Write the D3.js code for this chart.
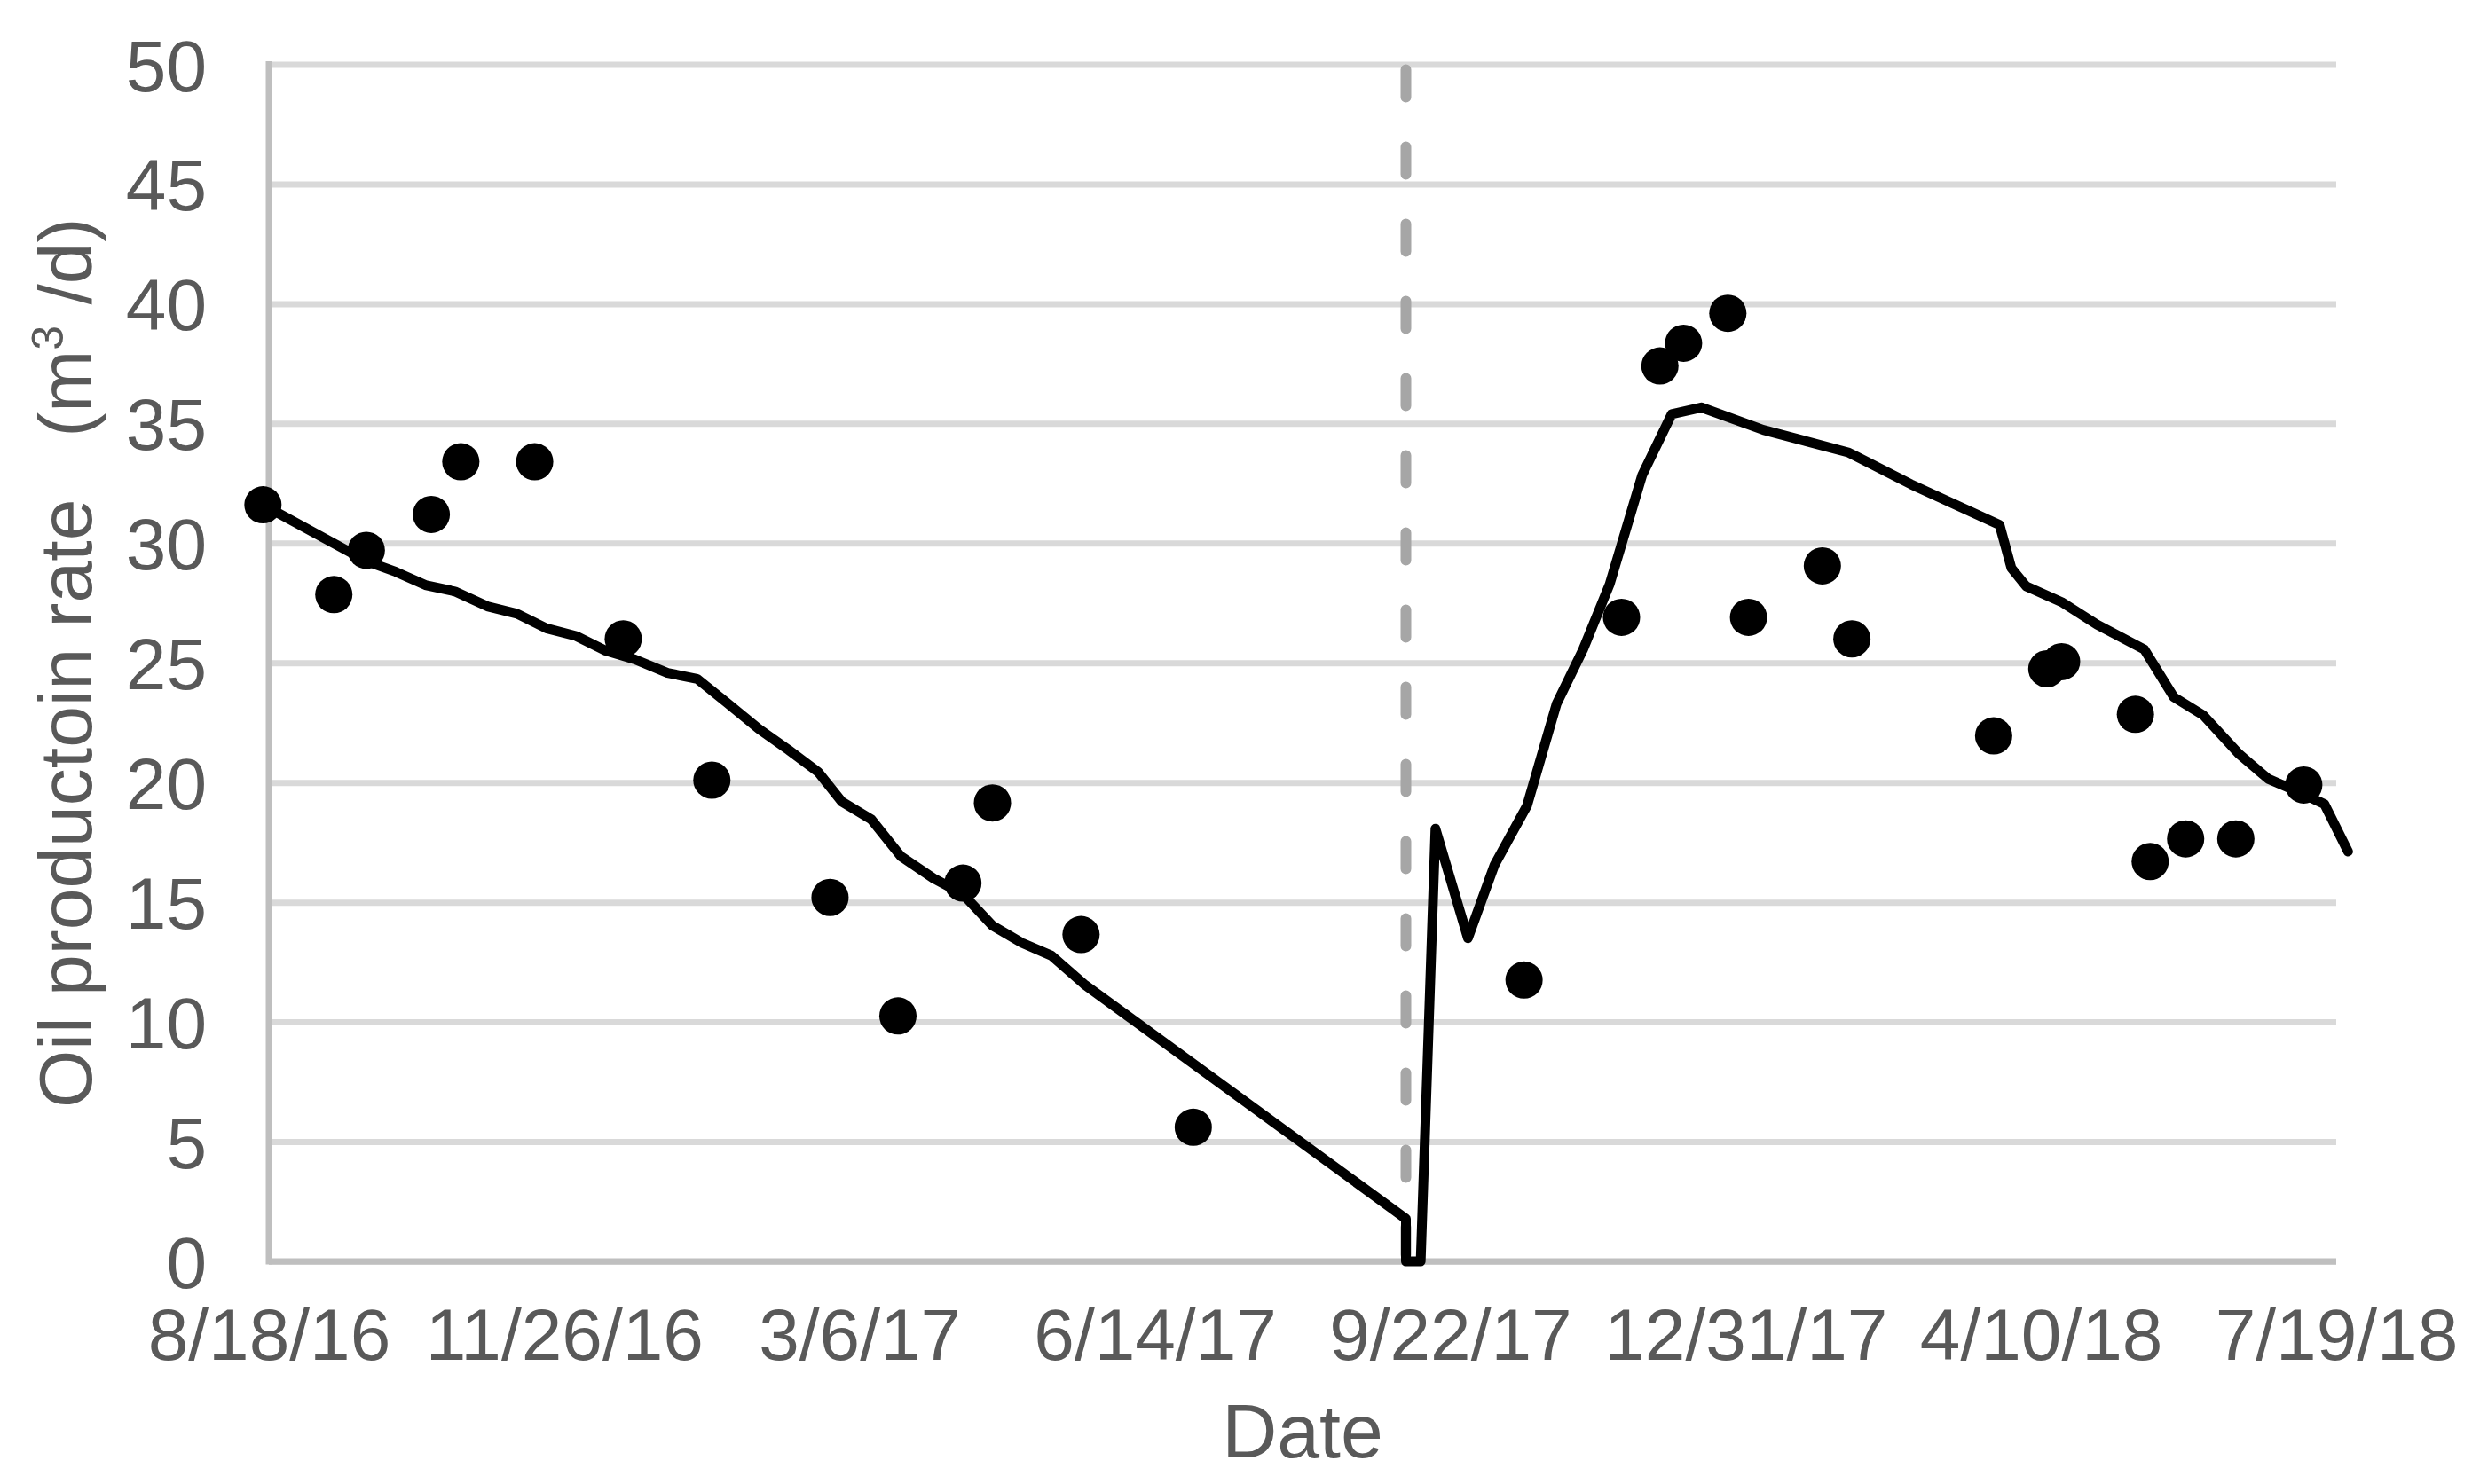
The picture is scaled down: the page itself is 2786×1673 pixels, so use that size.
<!DOCTYPE html>
<html><head><meta charset="utf-8">
<script src="https://cdn.jsdelivr.net/npm/d3@7"></script>
<style>
html,body{margin:0;padding:0;background:#fff;}
svg{display:block;}
text{font-family:"Liberation Sans",Arial,Helvetica,sans-serif;}
</style></head><body>
<svg id="chart" width="2786" height="1673"></svg>
<script>
// ---- data ----
const dotDates = ["2016-08-16","2016-09-09","2016-09-20","2016-10-12","2016-10-22","2016-11-16","2016-12-16","2017-01-15","2017-02-24","2017-03-19","2017-04-10","2017-04-20","2017-05-20","2017-06-27","2017-10-17","2017-11-19","2017-12-02","2017-12-10","2017-12-25","2018-01-01","2018-01-26","2018-02-05","2018-03-25","2018-04-12","2018-04-17","2018-05-12","2018-05-17","2018-05-29","2018-06-15","2018-07-08"];
const dotValues = [31.6,27.85,29.7,31.2,33.4,33.4,26.0,20.1,15.2,10.25,15.8,19.15,13.65,5.6,11.75,26.9,37.4,38.35,39.6,26.9,29.05,26.0,21.95,24.75,25.05,22.85,16.7,17.65,17.65,19.9];

const lineDates = ["2016-08-16","2016-09-20","2016-09-30","2016-10-10","2016-10-20","2016-10-31","2016-11-10","2016-11-20","2016-11-30","2016-12-10","2016-12-20","2016-12-31","2017-01-10","2017-01-20","2017-01-31","2017-02-10","2017-02-20","2017-02-28","2017-03-10","2017-03-20","2017-03-31","2017-04-10","2017-04-20","2017-04-30","2017-05-10","2017-05-21","2017-09-07","2017-09-07","2017-09-12","2017-09-17","2017-09-28","2017-10-07","2017-10-18","2017-10-28","2017-11-06","2017-11-15","2017-11-26","2017-12-06","2017-12-16","2018-01-06","2018-02-04","2018-02-25","2018-03-27","2018-03-31","2018-04-05","2018-04-17","2018-04-29","2018-05-15","2018-05-25","2018-06-04","2018-06-16","2018-06-26","2018-07-06","2018-07-15","2018-07-23"];
const lineValues = [31.6,29.25,28.8,28.25,27.98,27.36,27.05,26.44,26.12,25.51,25.14,24.58,24.33,23.34,22.23,21.36,20.44,19.2,18.46,16.92,16.0,15.34,14.02,13.3,12.77,11.58,1.78,0,0,18.07,13.5,16.56,19.03,23.28,25.56,28.29,32.84,35.39,35.67,34.73,33.78,32.46,30.76,28.96,28.2,27.54,26.6,25.56,23.57,22.81,21.2,20.15,19.62,19.1,17.12];

const xTickDates = ["2016-08-18","2016-11-26","2017-03-06","2017-06-14","2017-09-22","2017-12-31","2018-04-10","2018-07-19"];
const yTickValues = [0,5,10,15,20,25,30,35,40,45,50];
const xDomain = ["2016-08-18","2018-07-19"];
const yDomain = [0,50];
const markerDate = "2017-09-07";
const xTitle = "Date";
const yTitleMain = "Oil productoin rate";
const yTitleUnitA = "(m";
const yTitleUnitSup = "3";
const yTitleUnitB = "/d)";

// ---- layout ----
const W = 2786, H = 1673;
const margin = {left: 303, right: 153, top: 72.5, bottom: 251};
const w = W - margin.left - margin.right;
const h = H - margin.top - margin.bottom;
const parse = d3.timeParse("%Y-%m-%d");
const fmt = d3.timeFormat("%-m/%-d/%y");

const svg = d3.select("#chart");
const g = svg.append("g").attr("transform", `translate(${margin.left},${margin.top})`);

const x = d3.scaleTime().domain(xDomain.map(parse)).range([0, w]);
const y = d3.scaleLinear().domain(yDomain).range([h, 0]);

const textColor = "#595959";

// gridlines + y labels
const yAx = g.append("g").call(
  d3.axisLeft(y).tickValues(yTickValues).tickSizeInner(-w).tickSizeOuter(0).tickPadding(70).tickFormat(d3.format("d"))
);
yAx.select(".domain").remove();
yAx.selectAll(".tick line").attr("stroke", "#d9d9d9").attr("stroke-width", 7);
yAx.selectAll(".tick text").attr("fill", textColor).attr("font-size", 82).attr("dy", "0.36em")
  .attr("font-family", '"Liberation Sans",Arial,Helvetica,sans-serif');

// x labels
const xAx = g.append("g").attr("transform", `translate(0,${h})`).call(
  d3.axisBottom(x).tickValues(xTickDates.map(parse)).tickSize(0).tickPadding(53).tickFormat(fmt)
);
xAx.select(".domain").remove();
xAx.selectAll(".tick text").attr("fill", textColor).attr("font-size", 82)
  .attr("font-family", '"Liberation Sans",Arial,Helvetica,sans-serif');

// axis lines
g.append("line").attr("x1", 0).attr("x2", 0).attr("y1", -3.5).attr("y2", h + 3.5)
  .attr("stroke", "#bfbfbf").attr("stroke-width", 7);
g.append("line").attr("x1", 0).attr("x2", w).attr("y1", h).attr("y2", h)
  .attr("stroke", "#bfbfbf").attr("stroke-width", 7);

// dashed marker line
const mx = x(parse(markerDate));
g.append("line").attr("x1", mx).attr("x2", mx).attr("y1", y(yDomain[1])).attr("y2", y(0))
  .attr("stroke", "#a6a6a6").attr("stroke-width", 12)
  .attr("stroke-dasharray", "31,56").attr("stroke-dashoffset", -6).attr("stroke-linecap", "round");

// simulated line
const lineData = lineDates.map((d, i) => ({date: parse(d), v: lineValues[i]}));
g.append("path").datum(lineData)
  .attr("fill", "none").attr("stroke", "#000").attr("stroke-width", 11)
  .attr("stroke-linejoin", "round").attr("stroke-linecap", "round")
  .attr("d", d3.line().x(d => x(d.date)).y(d => y(d.v)));

// observed dots
const dotData = dotDates.map((d, i) => ({date: parse(d), v: dotValues[i]}));
g.selectAll("circle.dot").data(dotData).enter().append("circle")
  .attr("class", "dot").attr("cx", d => x(d.date)).attr("cy", d => y(d.v)).attr("r", 21).attr("fill", "#000");

// titles
svg.append("text").attr("x", margin.left + w / 2).attr("y", 1643)
  .attr("text-anchor", "middle").attr("fill", textColor).attr("font-size", 86).text(xTitle);

const yt = svg.append("text")
  .attr("transform", `translate(103,${margin.top + h / 2}) rotate(-90)`)
  .attr("text-anchor", "middle").attr("fill", textColor).attr("font-size", 84);
yt.append("tspan").text(yTitleMain + "\u00a0\u00a0\u00a0" + yTitleUnitA);
yt.append("tspan").attr("font-size", 50).attr("dy", -32).text(yTitleUnitSup);
yt.append("tspan").attr("dy", 32).text("\u00a0" + yTitleUnitB);
</script>
</body></html>
